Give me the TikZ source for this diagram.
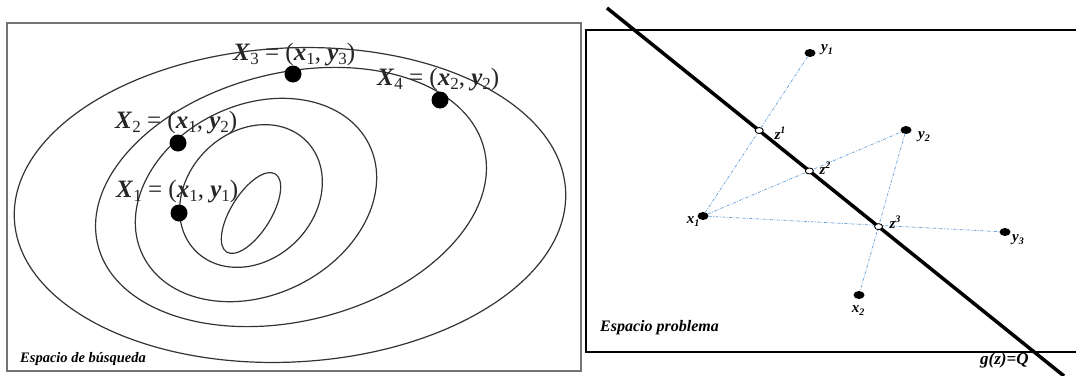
\documentclass[tikz,border=0pt]{standalone}
\usepackage{fontspec}
\setmainfont{Liberation Serif}
\usetikzlibrary{shapes.geometric}
\definecolor{lb}{RGB}{110,165,220}
\newcommand\bi[1]{\textbf{\textit{#1}}}
\newcommand\lsub[1]{\raisebox{-4pt}{\fontsize{17}{17}\selectfont #1}}
\newcommand\ssub[1]{\raisebox{-3pt}{\fontsize{10}{10}\selectfont\bfseries\itshape #1}}
\newcommand\ssup[1]{\raisebox{5.5pt}{\fontsize{10}{10}\selectfont\bfseries\itshape #1}}
\begin{document}
\begin{tikzpicture}[x=1pt,y=-1pt,
  contour/.style={draw=black!80, line width=1.2pt},
  bigdot/.style={circle, fill=black, inner sep=0pt, minimum size=17pt},
  lbl/.style={font=\fontsize{25}{25}\selectfont, text=black!85, inner sep=0pt, anchor=base west},
  frameL/.style={draw=black!55, line width=1.3pt},
  frameR/.style={draw=black, line width=1.5pt},
  pdot/.style={ellipse, fill=black, inner sep=0pt, minimum width=11pt, minimum height=8pt},
  zdot/.style={ellipse, draw=black, fill=white, line width=0.9pt, inner sep=0pt, minimum width=8pt, minimum height=6pt},
  plbl/.style={font=\fontsize{15}{15}\selectfont\bfseries\itshape, inner sep=0pt},
  conn/.style={draw=lb, line width=0.75pt, dash pattern=on 3pt off 1.5pt on 0.8pt off 1.5pt},
  gline/.style={line width=3.5pt, draw=black},
  title/.style={font=\bfseries\itshape, inner sep=0pt, anchor=base west}
]
\useasboundingbox (0,0) rectangle (1076,375);
\fill[white] (0,0) rectangle (1076,375);

% ---------- left panel ----------
\draw[frameL] (7,23) rectangle (581,371);
\draw[contour, rotate around={3:(290,205)}] (290,205) ellipse [x radius=276pt, y radius=157pt];
\draw[contour, rotate around={14:(291,197)}] (291,197) ellipse [x radius=199pt, y radius=124pt];
\draw[contour, rotate around={26:(256,200)}] (256,200) ellipse [x radius=126pt, y radius=95pt];
\draw[contour, rotate around={45:(251,196)}] (251,196) ellipse [x radius=78pt, y radius=64pt];
\draw[contour, rotate around={58:(251,213)}] (251,213) ellipse [x radius=46pt, y radius=20pt];

\node[bigdot] (X1) at (179,213) {};
\node[bigdot] (X2) at (178,143) {};
\node[bigdot] (X3) at (293,74) {};
\node[bigdot] (X4) at (440,100) {};
\node[lbl] (LX1) at (116,197) {\bi{X}\lsub{1} = (\bi{x}\lsub{1}, \bi{y}\lsub{1})};
\node[lbl] (LX2) at (115,128) {\bi{X}\lsub{2} = (\bi{x}\lsub{1}, \bi{y}\lsub{2})};
\node[lbl] (LX3) at (233,60) {\bi{X}\lsub{3} = (\bi{x}\lsub{1}, \bi{y}\lsub{3})};
\node[lbl] (LX4) at (377,85) {\bi{X}\lsub{4} = (\bi{x}\lsub{2}, \bi{y}\lsub{2})};
\node[title, font=\fontsize{14.5}{14.5}\selectfont\bfseries\itshape] (T1) at (20,362) {Espacio de búsqueda};

% ---------- right panel ----------
\draw[frameR] (1080,30) -- (586,30) -- (586,352) -- (1080,352);
\node[pdot] (y1) at (810,53) {};
\node[pdot] (y2) at (906,130) {};
\node[pdot] (x1) at (703,216) {};
\node[pdot] (y3) at (1005,232) {};
\node[pdot] (x2) at (859,295) {};
\coordinate (gA) at (607,8);
\coordinate (gB) at (1064,376);

\draw[conn] (y1) -- (x1);
\draw[conn] (x1) -- (y2);
\draw[conn] (y2) -- (x2);
\draw[conn] (x1) -- (y3);
\draw[gline] (gA) -- (gB);

\node[zdot] (z1) at (intersection of y1--x1 and gA--gB) {};
\node[zdot] (z2) at (intersection of x1--y2 and gA--gB) {};
\node[zdot] (z3) at (intersection of y2--x2 and gA--gB) {};

\node[plbl] (ly1) at (827,50) {y\ssub{1}};
\node[plbl] (ly2) at (924,137) {y\ssub{2}};
\node[plbl] (ly3) at (1018,240) {y\ssub{3}};
\node[plbl] (lx1) at (693,222) {x\ssub{1}};
\node[plbl] (lx2) at (858,311) {x\ssub{2}};
\node[plbl] (lz1) at (780,133) {z\ssup{1}};
\node[plbl] (lz2) at (825,168) {z\ssup{2}};
\node[plbl] (lz3) at (895,222) {z\ssup{3}};
\node[title, font=\fontsize{16}{16}\selectfont\bfseries\itshape] (T2) at (600,331) {Espacio problema};
\node[title, font=\fontsize{17}{17}\selectfont\bfseries\itshape] (T3) at (980,364) {g(z)=Q};
\end{tikzpicture}
\end{document}
